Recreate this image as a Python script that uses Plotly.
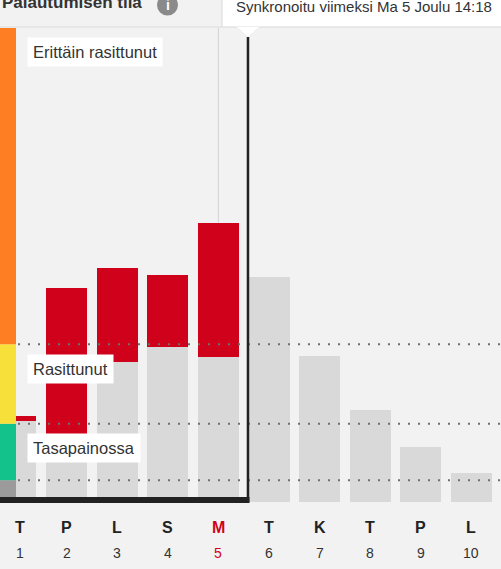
#
# Palautumisen tila - recovery state bar chart with Plotly
#

### Imports ###
import plotly.graph_objects as go                                        # Plotly graph objects


### Data ###
day_letters = ['T', 'P', 'L', 'S', 'M', 'T', 'K', 'T', 'P', 'L']         # Weekday initials
day_numbers = [1, 2, 3, 4, 5, 6, 7, 8, 9, 10]                            # Day of month
recovered = [17.1, 13.9, 29.5, 32.7, 30.6, 47.5, 30.8, 19.4, 11.6, 6.1]  # Grey part of each bar
strain = [1.0, 31.2, 19.9, 15.2, 28.3, None, None, None, None, None]     # Red part (training load)
zone_limits = [4.6, 16.5, 33.3]                                          # Dotted zone thresholds
zone_names = ['Tasapainossa', 'Rasittunut', 'Erittäin rasittunut']      # Zone labels
zone_label_y = [11.3, 28.1, 94.9]                                        # Label heights
today = 5                                                                # Highlighted day (Ma 5)
sync_text = 'Synkronoitu viimeksi Ma 5 Joulu 14:18'                     # Tooltip text
title_text = 'Palautumisen tila'                                         # Header text


### Colours ###
RED = '#d0021b'
GREY_BAR = '#d9d9d9'
BG = '#f2f2f2'
DARK = '#222222'
FONT = 'Liberation Sans, Arial, sans-serif'

W, H = 501, 569
TOP, BOTTOM = 28, 67                                                     # plot margins in px
PLOT_H = H - TOP - BOTTOM
X_RANGE = [0.6864, 10.583]                                               # bar 1 half hidden by the strip
STRIP = 16 / W                                                           # width of the coloured strip (paper)
LINE_X = 5.585                                                           # "now" line between day 5 and 6


def py(px):                                                              # pixel row -> paper y
    return (H - BOTTOM - px) / PLOT_H


### Figure ###
fig = go.Figure(layout=go.Layout(
    width=W, height=H,
    margin=dict(l=0, r=0, t=TOP, b=BOTTOM),
    paper_bgcolor=BG, plot_bgcolor=BG,
    barmode='stack', showlegend=False, hovermode=False,
    font=dict(family=FONT, color='#333333'),
    xaxis=dict(range=X_RANGE, visible=False, fixedrange=True),
    yaxis=dict(range=[0, 100], visible=False, fixedrange=True),
))

### Bars ###
fig.add_bar(x=day_numbers, y=recovered, width=0.81,
            marker=dict(color=GREY_BAR, line=dict(width=0)))
fig.add_bar(x=day_numbers, y=strain, width=0.81,
            marker=dict(color=RED, line=dict(width=0)))

### Zone strip on the left ###
zone_colors = ['#9b9b9b', '#13c28b', '#f8e03a', '#fd7e23']
bounds = [0] + zone_limits + [100]
for i, c in enumerate(zone_colors):
    fig.add_shape(type='rect', xref='paper', yref='y', layer='above',
                  x0=0, x1=STRIP, y0=bounds[i], y1=bounds[i + 1],
                  fillcolor=c, line=dict(width=0))

### Dotted threshold lines ###
for lim in zone_limits:
    fig.add_shape(type='line', xref='paper', yref='y', layer='above',
                  x0=STRIP + 2 / W, x1=1, y0=lim, y1=lim,
                  line=dict(color='#6f6f6f', width=2, dash='2px,8px'))

### Light vertical line above today's bar ###
fig.add_shape(type='line', xref='x', yref='y', layer='below',
              x0=today, x1=today, y0=strain[today - 1] + recovered[today - 1], y1=100,
              line=dict(color='#d2d2d2', width=1))

### "Now" line and bottom bar ###
fig.add_shape(type='line', xref='x', yref='paper', layer='above',
              x0=LINE_X, x1=LINE_X, y0=0, y1=py(37),
              line=dict(color=DARK, width=2.5))
fig.add_shape(type='rect', xref='paper', yref='paper', layer='above',
              x0=0, x1=249.5 / W, y0=py(503), y1=py(497),
              fillcolor=DARK, line=dict(width=0))

### Header ###
fig.add_shape(type='line', xref='paper', yref='paper',
              x0=0, x1=222 / W, y0=py(27), y1=py(27),
              line=dict(color='#dcdcdc', width=1))
fig.add_annotation(text='<b>' + title_text + '</b>', xref='paper', yref='paper',
                   x=0, y=py(2), xanchor='left', yanchor='middle', showarrow=False,
                   font=dict(size=17, color='#333333'))
fig.add_shape(type='circle', xref='paper', yref='paper',
              x0=157 / W, x1=178 / W, y0=py(15.5), y1=py(-5.5),
              fillcolor='#8a8a8a', line=dict(width=0))
fig.add_annotation(text='<b>i</b>', xref='paper', yref='paper',
                   x=167.5 / W, y=py(5), xanchor='center', yanchor='middle',
                   showarrow=False, font=dict(size=14, color='white'))

### Sync tooltip ###
fig.add_shape(type='rect', xref='paper', yref='paper',
              x0=222 / W, x1=1.01, y0=py(27), y1=py(-5),
              fillcolor='white', line=dict(color='#d8d8d8', width=1))
fig.add_shape(type='path', xref='paper', yref='paper',
              path='M {} {} L {} {} L {} {} Z'.format(236 / W, py(26.5), 260 / W, py(26.5), 248 / W, py(37)),
              fillcolor='white', line=dict(color='#e6e6e6', width=0.5))
fig.add_annotation(text=sync_text, xref='paper', yref='paper',
                   x=234 / W, y=py(6.5), xanchor='left', yanchor='middle', showarrow=False,
                   font=dict(size=15, color='#333333'))

### Zone labels ###
for name, yv in zip(zone_names, zone_label_y):
    fig.add_annotation(text=name, xref='paper', yref='y', x=27 / W, y=yv,
                       xanchor='left', yanchor='middle', showarrow=False,
                       bgcolor='white', borderpad=5,
                       font=dict(size=16.5, color='#333333'))

### Day labels ###
for i, (letter, num) in enumerate(zip(day_letters, day_numbers)):
    col = RED if num == today else DARK
    shift = 4 if i == 0 else 0
    fig.add_annotation(text='<b>' + letter + '</b>', xref='x', yref='paper',
                       x=num, y=py(527.5), xshift=shift, yanchor='middle', showarrow=False,
                       font=dict(size=16, color=col))
    fig.add_annotation(text=str(num), xref='x', yref='paper',
                       x=num, y=py(552.5), xshift=shift, yanchor='middle', showarrow=False,
                       font=dict(size=14, color=RED if num == today else '#333333'))

### Save (body margin removed so the figure sits in the page corner) ###
fig.write_html('out.html', config={'displayModeBar': False},
               post_script="document.body.style.margin='0';")
